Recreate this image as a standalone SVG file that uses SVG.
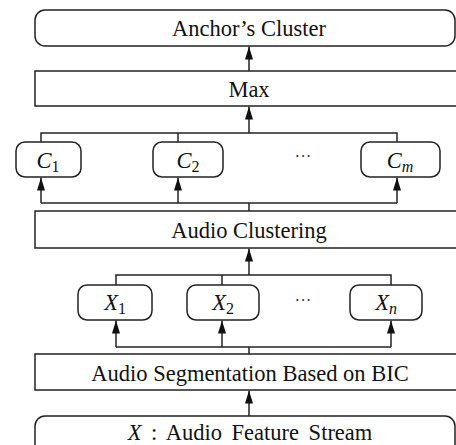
<svg xmlns="http://www.w3.org/2000/svg" width="456" height="445" viewBox="0 0 456 445">
<style>
.box{fill:#fff;stroke:#222;stroke-width:1.5}
.ln{fill:none;stroke:#222;stroke-width:1.5}
.t{font-family:"Liberation Serif","Times New Roman",serif;font-size:22.5px;fill:#111;text-anchor:middle}
.m{font-style:italic}
.s{font-size:16px}
.dots{font-family:"Liberation Serif",serif;font-size:17px;fill:#333;text-anchor:middle}
</style>
<defs>
<marker id="ah" markerUnits="userSpaceOnUse" markerWidth="13" markerHeight="8" refX="13" refY="4" orient="auto">
<path d="M0,0 L13,4 L0,8 Z" fill="#111"/>
</marker>
</defs>
<rect width="456" height="445" fill="#fff"/>
<g id="connectors">
<line class="ln" x1="249" y1="71" x2="249" y2="46.5" marker-end="url(#ah)"/>
<line class="ln" x1="249" y1="133" x2="249" y2="106.5" marker-end="url(#ah)"/>
<polyline class="ln" points="41,142 41,133 397,133 397,142"/>
<line class="ln" x1="178" y1="133" x2="178" y2="142"/>
<polyline class="ln" points="41,203 397,203"/>
<line class="ln" x1="41" y1="203" x2="41" y2="177.5" marker-end="url(#ah)"/>
<line class="ln" x1="178" y1="203" x2="178" y2="177.5" marker-end="url(#ah)"/>
<line class="ln" x1="397" y1="203" x2="397" y2="177.5" marker-end="url(#ah)"/>
<line class="ln" x1="249" y1="203" x2="249" y2="211"/>
<line class="ln" x1="249" y1="275" x2="249" y2="248.5" marker-end="url(#ah)"/>
<polyline class="ln" points="116,285 116,275 391,275 391,285"/>
<line class="ln" x1="222" y1="275" x2="222" y2="285"/>
<polyline class="ln" points="116,347 391,347"/>
<line class="ln" x1="116" y1="347" x2="116" y2="320.5" marker-end="url(#ah)"/>
<line class="ln" x1="222" y1="347" x2="222" y2="320.5" marker-end="url(#ah)"/>
<line class="ln" x1="391" y1="347" x2="391" y2="320.5" marker-end="url(#ah)"/>
<line class="ln" x1="249" y1="347" x2="249" y2="354"/>
<line class="ln" x1="249" y1="416" x2="249" y2="390.5" marker-end="url(#ah)"/>
</g>
<g id="anchor-cluster">
<rect class="box" x="35" y="10" width="420" height="36" rx="10"/>
<text class="t" x="249" y="36">Anchor’s Cluster</text>
</g>
<g id="max">
<rect class="box" x="35" y="71" width="430" height="35"/>
<text class="t" x="249" y="97">Max</text>
</g>
<g id="c1">
<rect class="box" x="16" y="142" width="65" height="35" rx="9"/>
<text class="t" x="48" y="168"><tspan class="m">C</tspan><tspan class="s" dy="4">1</tspan></text>
</g>
<g id="c2">
<rect class="box" x="153" y="142" width="70" height="35" rx="9"/>
<text class="t" x="188" y="168"><tspan class="m">C</tspan><tspan class="s" dy="4">2</tspan></text>
</g>
<text class="dots" x="303" y="162">···</text>
<g id="cm">
<rect class="box" x="361" y="142" width="79" height="35" rx="9"/>
<text class="t" x="400" y="168"><tspan class="m">C</tspan><tspan class="s m" dy="4">m</tspan></text>
</g>
<g id="audio-clustering">
<rect class="box" x="35" y="211" width="430" height="37"/>
<text class="t" x="249" y="238">Audio Clustering</text>
</g>
<g id="x1">
<rect class="box" x="78" y="285" width="74" height="35" rx="9"/>
<text class="t" x="115" y="310"><tspan class="m">X</tspan><tspan class="s" dy="4">1</tspan></text>
</g>
<g id="x2">
<rect class="box" x="187" y="285" width="72" height="35" rx="9"/>
<text class="t" x="223" y="310"><tspan class="m">X</tspan><tspan class="s" dy="4">2</tspan></text>
</g>
<text class="dots" x="303" y="306">···</text>
<g id="xn">
<rect class="box" x="350" y="285" width="72" height="35" rx="9"/>
<text class="t" x="386" y="310"><tspan class="m">X</tspan><tspan class="s m" dy="4">n</tspan></text>
</g>
<g id="segmentation">
<rect class="box" x="35" y="354" width="430" height="36"/>
<text class="t" x="250" y="381">Audio Segmentation Based on BIC</text>
</g>
<g id="feature-stream">
<rect class="box" x="35" y="416" width="420" height="45" rx="10"/>
<text class="t" x="250" y="440" style="word-spacing:4px"><tspan class="m">X</tspan> : Audio Feature Stream</text>
</g>
</svg>
